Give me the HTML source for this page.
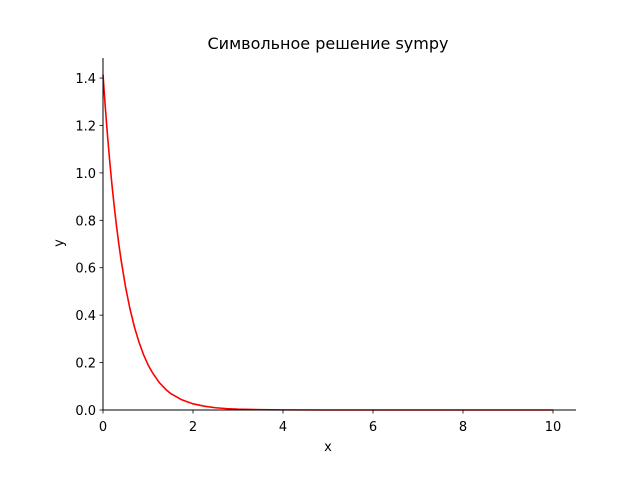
<!DOCTYPE html>
<html><head><meta charset="utf-8"><style>
html,body{margin:0;padding:0;background:#fff;}
svg{display:block;font-family:"DejaVu Sans","Liberation Sans",sans-serif;}
</style></head><body>
<svg id="chart" width="640" height="480">
<text x="328" y="49" font-size="16" text-anchor="middle">Символьное решение sympy</text>
<g id="axes"></g>
<text x="328" y="451" font-size="13" text-anchor="middle">x</text>
<text x="63" y="243" font-size="13" text-anchor="middle" transform="rotate(-90 63 243)">y</text>
</svg>
<script>
const xValues=[0,0.05,0.1,0.15,0.2,0.25,0.3,0.35,0.4,0.5,0.6,0.7,0.8,0.9,1.0,1.1,1.25,1.4,1.5,1.75,2.0,2.25,2.5,2.75,3.0,3.5,4.0,5.0,6.0,7.0,8.0,9.0,10.0];
const yValues=[1.414,1.280,1.158,1.048,0.948,0.858,0.776,0.702,0.635,0.520,0.426,0.349,0.286,0.234,0.191,0.157,0.116,0.086,0.070,0.043,0.026,0.016,0.0095,0.0058,0.0035,0.0013,0.0005,0.00006,0,0,0,0,0];
const xTicks=[0,2,4,6,8,10];
const yTicks=[0.0,0.2,0.4,0.6,0.8,1.0,1.2,1.4];
const yTickLabels=["0.0","0.2","0.4","0.6","0.8","1.0","1.2","1.4"];
const xTickLabels=["0","2","4","6","8","10"];

const X=v=>103+v*45;
const Y=v=>410-v*237.1;
const NS="http://www.w3.org/2000/svg";
const g=document.getElementById('axes');
function mk(t,a){const e=document.createElementNS(NS,t);for(const k in a)e.setAttribute(k,a[k]);g.appendChild(e);return e;}

const pts=xValues.map((x,i)=>X(x).toFixed(2)+','+Y(yValues[i]).toFixed(2)).join(' ');
const line=mk('polyline',{points:pts,fill:'none',stroke:'#ff0000','stroke-width':1.6,'stroke-linejoin':'round'});



const xs=mk('line',{x1:X(0),y1:Y(0),x2:576,y2:Y(0),stroke:'#000','stroke-width':1});


const ys=mk('line',{x1:X(0),y1:58,x2:X(0),y2:Y(0),stroke:'#000','stroke-width':1});



xTicks.forEach((v,i)=>{
 const t=mk('line',{x1:X(v),y1:Y(0),x2:X(v),y2:Y(0)+3.5,stroke:'#000','stroke-width':0.8});
 
 
 const l=mk('text',{x:X(v),y:Y(0)+21,'font-size':13,'text-anchor':'middle'});
 l.textContent=xTickLabels[i];
 
 
});
yTicks.forEach((v,i)=>{
 const t=mk('line',{x1:X(0)-3.5,y1:Y(v),x2:X(0),y2:Y(v),stroke:'#000','stroke-width':0.8});
 
 
 const l=mk('text',{x:X(0)-7,y:Y(v)+5,'font-size':13,'text-anchor':'end'});
 l.textContent=yTickLabels[i];
 
 
});
</script>
</body></html>
